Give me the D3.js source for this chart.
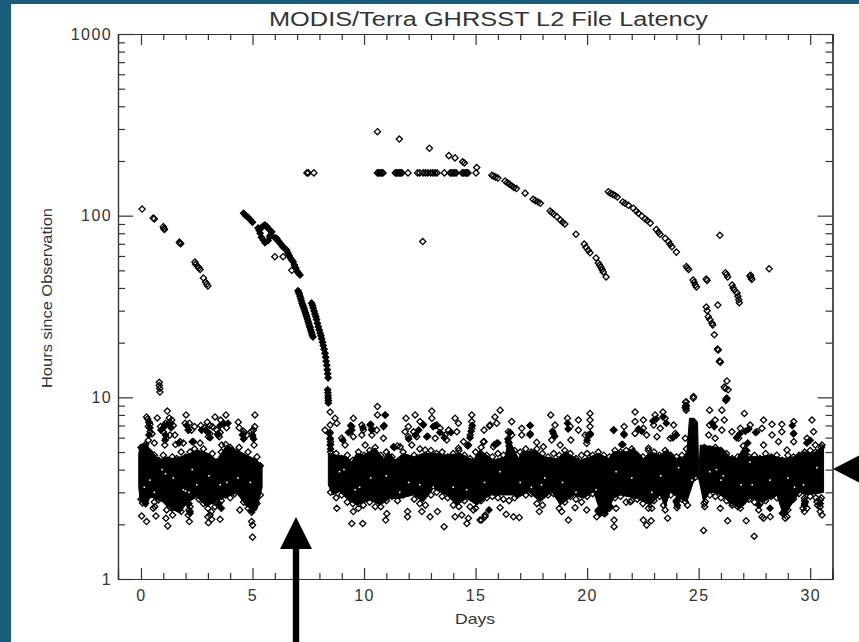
<!DOCTYPE html>
<html>
<head>
<meta charset="utf-8">
<script src="https://cdn.jsdelivr.net/npm/d3@7"></script>
<style>
  html, body { margin: 0; padding: 0; background: #1a5d7b; overflow: hidden; }
  text { font-family: "Liberation Sans", Arial, sans-serif; fill: #2a2a2a; }
</style>
</head>
<body>
<div id="chart"></div>
<script>
// all values: [day, hours since observation]
const xMajor = [0, 5, 10, 15, 20, 25, 30];
const xMinor = [1, 2, 3, 4, 6, 7, 8, 9, 11, 12, 13, 14, 16, 17, 18, 19, 21, 22, 23, 24, 26, 27, 28, 29, 31];
const yMajor = [1, 10, 100, 1000];
const yMinor = [2, 3, 4, 5, 6, 7, 8, 9, 20, 30, 40, 50, 60, 70, 80, 90, 200, 300, 400, 500, 600, 700, 800, 900];

// solid core of the cloud, upper and lower edge, one pair per stretch of days
const bandTopA = [[-0.1, 4.9], [-0.04, 5.46], [0.25, 5.6], [0.4, 5.13], [0.85, 4.52], [1.1, 4.7], [1.45, 4.6], [1.75, 4.7], [2.05, 4.81], [2.5, 5.13], [2.95, 4.95], [3.4, 4.52], [3.84, 5.46], [4.3, 5.13], [4.74, 4.81], [5.19, 4.52], [5.43, 4.2]];
const bandBottomA = [[-0.1, 3.2], [-0.04, 2.72], [0.25, 2.5], [0.4, 2.83], [0.85, 2.72], [1.45, 2.4], [1.75, 2.31], [2.05, 2.62], [2.5, 2.83], [2.95, 2.5], [3.4, 2.72], [3.84, 2.83], [4.3, 2.97], [4.74, 2.5], [5.19, 2.4], [5.43, 3.2]];
const bandTopB = [[8.4, 4.92], [8.77, 4.81], [9.22, 4.71], [9.45, 4.42], [9.67, 4.92], [9.97, 4.81], [10.5, 5.25], [10.87, 4.61], [11.09, 5.02], [11.39, 4.52], [11.77, 4.92], [12.21, 4.71], [12.66, 4.92], [13.18, 4.92], [13.7, 4.81], [14.3, 4.92], [14.9, 4.52], [15.2, 5.13], [15.8, 4.52], [16.32, 4.71], [16.47, 5.82], [16.7, 5.25], [16.92, 4.61], [17.07, 5.02], [17.37, 5.02], [17.67, 5.13], [18.05, 4.71], [18.65, 4.61], [19.02, 5.02], [19.39, 4.71], [19.69, 4.52], [20.15, 4.71], [20.5, 4.92], [20.96, 4.61], [21.18, 5.02], [21.78, 5.02], [22.08, 5.25], [22.53, 4.61], [22.83, 5.02], [23.27, 4.81], [23.57, 5.13], [24.02, 4.61], [24.32, 4.71], [24.47, 5.02], [24.59, 7.67], [24.8, 7.67], [24.95, 7.3], [25.0, 4.0]];
const bandBottomB = [[8.4, 3.29], [8.6, 2.9], [8.9, 3.02], [9.22, 2.78], [9.67, 2.55], [10.27, 2.72], [10.72, 2.55], [11.17, 2.78], [11.62, 2.78], [12.21, 2.9], [12.66, 2.66], [13.11, 3.15], [13.7, 2.9], [14.16, 2.55], [14.6, 2.78], [15.05, 2.55], [15.65, 2.9], [16.1, 2.9], [16.7, 2.9], [16.85, 2.78], [17.37, 3.02], [17.9, 2.66], [18.42, 3.02], [18.8, 2.55], [19.39, 2.9], [19.84, 2.78], [20.29, 3.02], [20.59, 2.35], [20.88, 2.29], [21.18, 2.78], [21.48, 2.9], [22.23, 2.78], [22.83, 2.55], [23.27, 2.9], [23.5, 2.5], [23.73, 3.02], [24.1, 2.78], [24.47, 2.66], [24.77, 3.43], [25.0, 3.6]];
const bandTopC = [[25.0, 3.5], [25.07, 5.46], [25.67, 5.34], [26.04, 5.25], [26.41, 4.71], [26.71, 4.61], [27.09, 5.46], [27.23, 4.71], [27.76, 4.71], [28.2, 4.81], [28.8, 4.61], [29.25, 4.71], [29.7, 5.02], [30.15, 4.92], [30.6, 5.46]];
const bandBottomC = [[25.0, 3.6], [25.22, 2.66], [25.51, 3.02], [26.04, 2.9], [26.41, 2.62], [26.86, 2.45], [27.31, 2.78], [27.9, 2.66], [28.5, 2.9], [28.8, 2.25], [29.1, 2.5], [29.55, 3.02], [29.77, 2.9], [30.3, 2.95], [30.6, 3.0]];

// diamonds that roughen the edge of the core
const edgeTopA = [[0, 5.3], [0.2, 5.5], [0.4, 5.0], [0.6, 4.8], [0.8, 4.5], [1, 4.8], [1.2, 4.5], [1.4, 4.7], [1.6, 4.6], [1.8, 5.0], [2, 4.7], [2.2, 5.0], [2.4, 5.2], [2.6, 4.8], [2.8, 5.2], [3, 4.7], [3.2, 4.9], [3.4, 4.4], [3.6, 5.0], [3.8, 5.5], [4, 5.3], [4.2, 5.0], [4.4, 5.3], [4.6, 4.7], [4.8, 5.0], [5, 4.4], [5.2, 4.7], [5.35, 4.2]];
const edgeBottomA = [[0, 2.75], [0.2, 2.6], [0.4, 2.9], [0.6, 2.65], [0.8, 2.8], [1, 2.9], [1.2, 2.6], [1.4, 2.5], [1.6, 2.55], [1.8, 2.35], [2, 2.7], [2.2, 2.85], [2.4, 3.0], [2.6, 2.75], [2.8, 2.6], [3, 2.45], [3.2, 2.7], [3.4, 2.6], [3.6, 2.85], [3.8, 2.9], [4, 2.8], [4.2, 2.95], [4.4, 3.0], [4.6, 2.65], [4.8, 2.45], [5, 2.5], [5.2, 2.6], [5.35, 2.9]];
const edgeTopB = [[8.5, 5.0], [8.75, 4.9], [9, 4.6], [9.25, 4.8], [9.5, 4.5], [9.75, 5.0], [10, 4.8], [10.25, 5.1], [10.5, 5.3], [10.75, 4.8], [11, 5.0], [11.25, 4.7], [11.5, 5.4], [11.75, 5.0], [12, 4.6], [12.25, 4.8], [12.5, 5.2], [12.75, 4.8], [13, 5.1], [13.25, 4.9], [13.5, 5.0], [13.75, 4.7], [14, 4.9], [14.25, 5.1], [14.5, 4.8], [14.75, 4.6], [15, 5.0], [15.25, 5.3], [15.5, 4.8], [15.75, 4.7], [16, 4.9], [16.25, 4.8], [16.5, 5.6], [16.75, 5.1], [17, 5.0], [17.25, 5.2], [17.5, 5.0], [17.75, 5.2], [18, 4.9], [18.25, 4.7], [18.5, 4.9], [18.75, 4.8], [19, 5.1], [19.25, 4.9], [19.5, 4.6], [19.75, 4.8], [20, 4.9], [20.25, 4.8], [20.5, 5.0], [20.75, 4.8], [21, 4.7], [21.25, 5.1], [21.5, 5.0], [21.75, 5.1], [22, 5.2], [22.25, 4.8], [22.5, 4.7], [22.75, 5.1], [23, 5.0], [23.25, 4.8], [23.5, 5.1], [23.75, 4.8], [24, 4.7], [24.25, 4.8], [24.45, 5.2]];
const edgeBottomB = [[8.5, 3.0], [8.75, 2.8], [9, 2.9], [9.25, 2.65], [9.5, 2.6], [9.75, 2.45], [10, 2.75], [10.25, 2.65], [10.5, 2.5], [10.75, 2.5], [11, 2.7], [11.25, 2.85], [11.5, 2.7], [11.75, 2.9], [12, 3.0], [12.25, 2.75], [12.5, 2.6], [12.75, 2.55], [13, 2.9], [13.25, 3.0], [13.5, 2.85], [13.75, 2.8], [14, 2.55], [14.25, 2.5], [14.5, 2.7], [14.75, 2.5], [15, 2.45], [15.25, 2.7], [15.5, 2.8], [15.75, 2.85], [16, 2.8], [16.25, 2.75], [16.5, 2.7], [16.75, 2.8], [17, 3.0], [17.25, 2.9], [17.5, 2.95], [17.75, 2.6], [18, 2.55], [18.25, 2.9], [18.5, 2.95], [18.75, 2.45], [19, 2.65], [19.25, 2.85], [19.5, 2.75], [19.75, 2.65], [20, 2.85], [20.25, 2.95], [20.5, 2.35], [20.75, 2.3], [21, 2.45], [21.25, 2.8], [21.5, 2.85], [21.75, 2.65], [22, 2.7], [22.25, 2.75], [22.5, 2.6], [22.75, 2.45], [23, 2.7], [23.25, 2.85], [23.5, 2.4], [23.75, 2.9], [24, 2.65], [24.25, 2.75], [24.5, 2.55]];
const edgeTopC = [[25.25, 5.3], [25.5, 5.2], [25.75, 5.3], [26, 5.1], [26.25, 4.9], [26.5, 4.6], [26.75, 4.7], [27, 5.4], [27.25, 4.7], [27.5, 4.8], [27.75, 4.6], [28, 4.9], [28.25, 4.7], [28.5, 4.8], [28.75, 4.5], [29, 4.8], [29.25, 4.7], [29.5, 4.8], [29.75, 5.0], [30, 5.1], [30.25, 5.0], [30.5, 5.3]];
const edgeBottomC = [[25.25, 2.6], [25.5, 2.9], [25.75, 2.85], [26, 2.8], [26.25, 2.7], [26.5, 2.55], [26.75, 2.5], [27, 2.65], [27.25, 2.75], [27.5, 2.65], [27.75, 2.6], [28, 2.7], [28.25, 2.85], [28.5, 2.8], [28.75, 2.3], [29, 2.4], [29.25, 2.75], [29.5, 2.95], [29.75, 2.7], [30, 2.85], [30.25, 2.8], [30.5, 2.8]];

// open diamonds showing through the core as white flecks
const bandSpecks = [[0.4, 3.5], [0.95, 4.0], [1.45, 3.6], [1.9, 3.1], [2.0, 3.05], [2.15, 3.0], [3.05, 3.7], [3.55, 3.3], [3.85, 3.4], [4.35, 3.6], [0.15, 3.2], [1.1, 3.8], [2.3, 4.0], [2.5, 3.3], [4.9, 3.4], [0.6, 3.0],
  [8.9, 3.9], [9.6, 3.1], [9.8, 3.2], [11, 3.7], [11.6, 3.0], [12.5, 3.3], [13.1, 3.2], [13.3, 3.0], [14.0, 3.2], [14.6, 3.1], [9.1, 4.0], [10.3, 3.6], [12, 3.4], [15.4, 3.4], [16.1, 3.9], [17, 3.4], [17.5, 3.2], [17.95, 3.3], [18.1, 3.6], [18.9, 3.4], [19.5, 3.0], [20.4, 3.1], [21.3, 3.9], [22, 3.6], [22.9, 3.0], [23.3, 3.7], [24.1, 4.1], [24.7, 3.5], [24.85, 3.3], [24.87, 3.6], [25.5, 3.9], [25.8, 4.0], [26, 3.5], [26.1, 3.7], [26.9, 3.3], [27.3, 4.4], [27.4, 3.3], [28.2, 3.5], [29.0, 3.6], [29.3, 3.2], [29.7, 3.3], [30.3, 4.1]];

// loose diamonds above and below the core
const scatterUpperA = [[0.25, 7.8], [0.37, 7.3], [0.33, 6.9], [0.41, 6.46], [0.33, 5.8], [0.73, 7.7], [1.18, 8.4], [1.27, 7.7], [1.38, 7.5], [1.07, 7.0], [0.88, 6.9], [1.45, 7.0], [1.0, 6.46], [1.12, 5.95], [1.07, 5.46], [1.52, 6.2], [1.75, 5.7], [1.9, 5.6], [2.02, 8.0], [1.98, 7.2], [2.17, 7.2], [2.13, 6.6], [2.27, 6.6], [2.35, 5.7], [2.65, 5.6], [2.68, 7.0], [2.97, 7.3], [3.09, 7.0], [2.87, 6.8], [3.09, 6.3], [3.02, 6.07], [3.32, 7.8], [3.57, 7.5], [3.81, 8.0], [3.51, 6.07], [3.62, 5.46], [3.84, 6.8], [4.36, 7.3], [4.4, 6.8], [4.59, 6.3], [5.11, 8.0], [5.04, 6.6], [5.0, 6.2], [5.07, 5.46], [0.5, 6.3], [0.6, 5.6], [1.3, 6.2], [1.55, 5.5], [3.4, 6.6], [3.2, 6.9], [2.4, 6.9], [4.6, 6.5], [4.75, 6.2], [5.1, 6.9], [4.95, 6.5], [0.3, 7.6], [0.4, 7.1], [1.1, 7.2], [1.35, 7.2], [3.55, 6.4], [3.45, 6.3], [0.82, 12.1], [0.82, 11.6], [0.84, 11.2], [0.85, 10.7]];
const scatterLowerA = [[0.07, 2.62], [0.03, 2.22], [0.25, 2.07], [0.67, 2.22], [0.55, 2.45], [0.78, 2.72], [1.2, 1.96], [1.12, 2.16], [1.42, 2.25], [1.38, 2.45], [2.12, 2.25], [2.17, 2.07], [2.2, 2.5], [3.1, 2.25], [3.17, 2.13], [3.02, 2.04], [3.55, 2.13], [3.32, 2.5], [4.43, 2.4], [4.8, 2.72], [4.96, 2.07], [5.0, 1.98], [5.0, 1.7], [4.96, 2.33], [2.15, 2.4], [2.1, 2.6], [3.15, 2.35], [3.6, 2.7], [1.15, 2.4], [5.02, 2.6], [5.0, 2.4], [0.62, 2.5], [1.45, 2.75], [2.2, 2.3], [3.0, 2.2]];
const scatterUpperB = [[8.48, 8.3], [8.7, 7.67], [8.48, 7.04], [8.25, 6.6], [8.78, 7.2], [8.48, 5.95], [8.48, 5.46], [8.48, 6.4], [8.5, 5.7], [9.52, 7.67], [9.45, 6.9], [9.37, 6.46], [9.0, 5.95], [9.15, 5.46], [9.52, 6.07], [9.9, 7.04], [9.97, 6.6], [9.9, 6.2], [10.05, 5.46], [10.27, 7.04], [10.35, 6.6], [10.6, 8.9], [10.6, 8.0], [10.95, 8.0], [10.87, 6.9], [10.57, 6.6], [10.35, 6.2], [10.87, 5.95], [11.32, 5.34], [11.62, 5.34], [11.88, 7.67], [11.99, 6.9], [11.84, 6.46], [11.99, 6.07], [12.29, 8.0], [12.51, 7.35], [12.66, 7.04], [12.22, 6.46], [12.36, 6.07], [12.14, 5.46], [12.74, 5.13], [13.04, 8.4], [13.04, 7.67], [13.26, 7.04], [12.81, 6.07], [13.19, 5.95], [13.41, 6.75], [13.64, 6.2], [14.08, 7.67], [14.23, 7.2], [13.79, 6.6], [14.16, 6.46], [13.71, 5.82], [14.83, 8.0], [14.83, 7.35], [14.83, 6.75], [14.76, 6.2], [14.68, 5.46], [14.46, 5.7], [15.38, 6.6], [15.35, 5.7], [15.65, 7.04], [14.23, 5.25],
  [16.1, 8.5], [15.87, 7.8], [15.95, 7.2], [15.62, 6.95], [16.62, 7.35], [16.47, 6.46], [16.62, 6.2], [17.07, 6.75], [17.07, 6.2], [17.44, 7.0], [17.44, 6.2], [17.74, 5.65], [18.04, 5.34], [18.37, 8.0], [18.56, 7.04], [18.49, 6.33], [18.41, 5.82], [18.79, 5.46], [19.12, 7.67], [19.24, 6.9], [19.61, 7.5], [19.61, 6.6], [19.27, 5.82], [20.13, 8.15], [20.13, 7.5], [20.13, 6.9], [20.13, 6.2], [19.91, 6.2], [19.98, 5.58], [21.18, 6.6], [21.66, 6.9], [21.66, 6.2], [21.55, 5.5], [22.15, 8.3], [22.15, 7.35], [22.52, 7.5], [22.52, 6.75], [22.15, 6.33], [22.67, 6.2], [22.75, 5.25], [15.95, 5.58], [15.8, 5.34], [15.38, 5.7], [16.47, 5.7],
  [24.44, 9.45], [24.44, 8.7], [24.77, 10.1], [23.05, 8.0], [23.4, 8.3], [23.5, 7.67], [22.98, 7.04], [23.28, 6.75], [23.13, 6.07], [23.88, 7.04], [23.95, 6.33], [23.73, 5.95], [24.4, 5.95]];
const scatterLowerB = [[8.78, 2.45], [9.45, 2.02], [9.94, 2.02], [9.52, 2.35], [9.97, 2.55], [10.97, 2.11], [11.02, 2.29], [11.95, 2.35], [11.95, 2.2], [12.59, 2.35], [12.96, 2.2], [13.29, 2.35], [13.59, 1.94], [14.08, 2.2], [14.38, 2.25], [14.68, 2.16], [14.61, 2.02], [15.2, 2.11], [15.43, 2.25], [14.9, 2.4], [16.1, 2.47], [16.37, 2.27], [16.7, 2.2], [16.96, 2.18], [17.86, 2.35], [18.86, 2.35], [19.16, 2.11], [19.46, 2.47], [19.98, 2.4], [20.43, 2.2], [20.8, 2.29], [21.21, 2.11], [21.21, 1.94], [21.3, 2.45], [21.93, 2.66], [22.52, 2.11], [22.67, 1.98], [15.42, 2.2], [15.27, 2.11], [22.87, 2.09], [23.61, 2.16], [24.03, 2.47], [23.43, 2.55], [22.9, 2.45], [24.4, 2.66]];
const scatterUpperC = [[26.24, 9.8], [26.22, 9.6], [26.26, 9.9], [25.49, 8.5], [25.49, 7.04], [25.74, 7.5], [26.04, 8.5], [26.15, 7.5], [26.04, 6.6], [25.45, 6.2], [25.74, 5.95], [26.49, 6.46], [27.05, 8.15], [26.87, 6.75], [27.31, 7.04], [26.79, 5.95], [27.61, 6.46], [27.91, 7.5], [27.84, 6.75], [27.91, 5.46], [28.29, 7.1], [28.29, 6.2], [28.73, 7.1], [28.73, 6.46], [28.58, 5.7], [29.26, 7.35], [29.26, 6.33], [29.26, 5.7], [30.08, 7.5], [29.86, 5.95], [30.15, 6.46], [30.53, 5.46], [30.23, 5.46], [28.96, 5.13]];
const scatterLowerC = [[25.22, 1.85], [27.49, 1.72], [26.3, 2.09], [27.13, 2.09], [25.97, 2.45], [25.27, 2.5], [25.3, 2.66], [27.69, 2.4], [27.84, 2.2], [27.91, 2.16], [28.21, 2.2], [28.88, 2.4], [28.96, 2.2], [28.88, 2.16], [29.74, 2.78], [29.74, 2.55], [29.74, 2.35], [30.45, 2.72], [30.45, 2.5], [30.45, 2.35], [30.53, 2.25], [30.3, 2.66], [26.87, 2.45], [26.49, 2.62], [29.86, 2.45], [30.33, 2.55], [29.68, 2.45], [29.78, 2.66]];

// places where the diamonds pile up into solid blobs
const clusterBlobs = [[0.35, 7.3], [0.4, 6.8], [0.36, 6.2], [0.9, 6.6], [1.05, 6.9], [1.1, 6.2], [1.25, 7.2], [1.35, 6.8], [1.08, 5.8], [1.7, 5.6], [2.05, 7.0], [2.12, 6.6], [2.3, 5.7], [2.72, 6.6], [2.9, 6.6], [3.0, 6.4], [3.1, 6.0], [3.45, 6.2], [3.55, 7.0], [3.7, 7.2], [3.9, 7.2], [4.55, 6.2], [4.6, 5.9], [5.0, 6.1], [5.05, 5.9], [2.15, 2.6], [2.2, 2.35], [3.5, 2.6], [3.6, 2.45], [4.95, 2.4], [5.0, 2.5], [1.6, 2.7], [1.7, 2.55],
  [8.45, 6.3], [8.48, 5.9], [8.5, 5.5], [8.5, 5.2], [9.3, 6.4], [9.45, 6.6], [9.4, 7.0], [9.05, 5.8], [9.95, 6.8], [10.3, 7.1], [10.35, 6.7], [10.95, 8.0], [10.9, 7.0], [11.35, 5.3], [12.0, 5.9], [12.3, 6.2], [12.45, 6.6], [12.65, 7.1], [12.85, 6.1], [13.1, 6.9], [13.2, 7.0], [13.4, 6.4], [13.6, 6.0], [13.9, 6.4], [14.85, 7.0], [14.8, 6.5], [14.75, 6.0], [14.65, 5.4], [16.45, 5.9], [16.5, 5.4], [15.85, 5.5], [16.0, 5.6], [16.55, 6.4], [17.45, 7.0], [17.45, 6.3], [18.45, 6.5], [18.55, 6.1], [19.12, 7.2], [19.15, 6.7], [20.0, 5.8], [20.05, 6.2], [20.15, 6.3], [21.2, 6.6], [21.65, 6.3], [21.6, 5.5], [22.3, 6.7], [22.45, 6.5], [20.5, 2.4], [20.6, 2.3], [20.8, 2.35], [21.05, 2.5], [15.6, 2.4], [24.7, 6.2], [24.8, 6.8], [24.45, 9.0],
  [22.95, 7.4], [23.1, 7.6], [23.4, 7.8], [23.55, 7.2], [23.85, 6.0], [24.0, 6.2], [25.6, 7.2], [25.7, 6.9], [26.7, 6.0], [26.85, 6.3], [27.1, 6.5], [27.25, 6.7], [27.2, 5.6], [27.15, 5.1], [27.55, 6.4], [29.2, 7.0], [29.25, 6.3], [29.85, 5.6], [30.0, 5.8], [26.25, 9.8], [24.0, 2.7], [24.05, 2.55], [29.75, 2.6], [28.8, 2.3], [30.45, 2.6], [27.7, 2.55], [28.2, 2.45]];

// the long latency arcs
const arcFirst = [[0.05, 108.7], [0.55, 97], [0.6, 96], [1.0, 87], [1.03, 85], [1.05, 84], [1.72, 71.5], [1.75, 70.7], [1.78, 70], [2.42, 55.5], [2.45, 54], [2.55, 52.5], [2.6, 51.5], [2.65, 50.5], [2.8, 45.4], [2.9, 43], [2.95, 42], [3.0, 41]];
const arcSecond = [[4.6, 103], [4.7, 100], [4.8, 98], [4.9, 95], [5.0, 92], [5.25, 85.5], [5.3, 83], [5.34, 80], [5.4, 76], [5.48, 73.4], [5.56, 71], [5.4, 86], [5.5, 88], [5.56, 88.8], [5.65, 87], [5.75, 84], [5.86, 81.5], [5.8, 78], [5.78, 76.5], [5.7, 73], [6.0, 75.5], [6.08, 75], [6.14, 73], [6.2, 71.5], [6.26, 70], [6.32, 68.5], [6.38, 67], [6.45, 66], [6.53, 64.7], [6.58, 62.5], [6.64, 60.5], [6.7, 58.5], [6.76, 57], [6.82, 55.8], [6.88, 53.5], [6.94, 51.5], [7.0, 49.5], [7.06, 48.2], [7.13, 47.1]];
const arcSecondStray = [[6.0, 59.4], [6.37, 59.4], [6.76, 50]];
const arcThird = [[7.04, 38.6], [7.07, 37.8], [7.1, 37], [7.13, 36], [7.16, 35], [7.19, 34], [7.22, 33], [7.25, 32.2], [7.28, 31.5], [7.31, 30.8], [7.34, 30], [7.37, 29.2], [7.4, 28.5], [7.43, 27.8], [7.46, 27], [7.49, 26.2], [7.52, 25.5], [7.55, 24.8], [7.58, 24.2], [7.61, 23.5], [7.64, 22.8], [7.67, 22.1], [7.71, 21.5]];
const arcFourth = [[7.65, 33], [7.69, 32], [7.72, 31], [7.76, 29.9], [7.8, 28.8], [7.84, 27.8], [7.87, 26.8], [7.91, 25.6], [7.95, 24.5], [7.99, 23.5], [8.03, 22.6], [8.07, 21.8], [8.1, 21], [8.14, 20.1], [8.17, 19.3], [8.21, 18.4], [8.25, 17.5], [8.28, 16.6], [8.3, 15.8], [8.33, 15], [8.35, 14.2], [8.37, 13.5], [8.39, 12.8], [8.37, 11], [8.38, 10.6], [8.39, 10.2], [8.39, 9.9], [8.4, 9.6], [8.4, 9.3]];
const rowAt172 = [[7.44, 172], [7.5, 172], [7.75, 172], [10.6, 172], [10.66, 172], [10.72, 172], [10.78, 172], [10.85, 172], [11.4, 172], [11.46, 172], [11.52, 172], [11.58, 172], [11.64, 172], [11.7, 172], [11.97, 172], [12.4, 172], [12.5, 172], [12.65, 172], [12.75, 172], [12.85, 172], [12.98, 172], [13.08, 172], [13.18, 172], [13.27, 172], [13.6, 172], [13.86, 172], [13.93, 172], [14.0, 172], [14.07, 172], [14.13, 172], [14.4, 172], [14.47, 172], [14.54, 172], [14.6, 172], [14.66, 172], [15.02, 172]];
const arcUpper = [[10.6, 290], [11.58, 264], [12.93, 235], [13.8, 214], [14.08, 208], [14.42, 198], [14.5, 195], [15.05, 184], [12.63, 72]];
const arcFalling = [[15.73, 167], [15.8, 165], [15.9, 163], [16.0, 161], [16.32, 155], [16.42, 152], [16.52, 149], [16.62, 146], [16.72, 143], [16.83, 141], [17.22, 133], [17.58, 123], [17.68, 121], [17.8, 119], [17.9, 117], [18.34, 106], [18.42, 104], [18.5, 102], [18.65, 98.6], [18.8, 94.6], [18.9, 92], [19.0, 90], [19.5, 79], [19.87, 69.8], [19.95, 67], [20.05, 64.5], [20.13, 62.5], [20.4, 58.5], [20.5, 54.9], [20.56, 53.5], [20.62, 52], [20.67, 50.5], [20.72, 49], [20.85, 46]];
const arcRight = [[20.95, 135.5], [21.05, 133], [21.15, 131], [21.25, 129], [21.35, 126.6], [21.6, 119], [21.7, 117], [21.85, 114], [22.07, 110], [22.2, 106], [22.3, 103], [22.45, 99.5], [22.6, 96], [22.7, 94], [22.83, 91], [23.1, 84], [23.2, 81], [23.27, 79], [23.5, 75], [23.65, 72], [23.72, 69.5], [23.8, 67.4], [24.0, 63], [24.5, 51.5], [24.45, 52.5], [24.55, 50.5], [24.75, 44.2], [24.8, 43], [24.85, 41.5], [24.9, 40.5]];
const arcEnd = [[25.34, 44.8], [25.38, 44], [25.95, 78], [26.2, 48.5], [26.25, 47.5], [26.3, 46], [26.5, 41.5], [26.55, 40], [26.6, 39], [26.72, 37.5], [26.76, 36], [26.8, 34.5], [26.82, 33.2], [27.3, 46.5], [27.33, 47], [27.35, 45.5], [27.38, 44.6], [28.16, 51], [25.86, 32.2], [25.34, 31.4], [25.38, 30], [25.43, 27.8], [25.5, 26.8], [25.6, 25.6], [25.63, 25], [25.7, 22.1], [25.84, 18.4], [25.86, 18.4], [25.88, 18.2], [25.93, 15.8], [25.95, 15.8], [25.97, 15.6], [26.27, 12.3], [26.15, 11.4], [26.2, 11.2], [26.32, 11], [26.24, 9.8], [24.76, 9.9], [24.42, 9.4], [24.42, 9.0], [24.44, 8.5], [24.4, 8.8]];

const openGroups = [scatterUpperA, scatterLowerA, scatterUpperB, scatterLowerB, scatterUpperC, scatterLowerC,
  edgeTopA, edgeBottomA, edgeTopB, edgeBottomB, edgeTopC, edgeBottomC,
  arcFirst, arcSecondStray, rowAt172, arcUpper, arcFalling, arcRight, arcEnd];
const solidGroups = [clusterBlobs, arcSecond, arcThird, arcFourth];

const width = 859, height = 642;
const plot = { left: 118, right: 832.5, top: 34, bottom: 579 };

const svg = d3.select('#chart').append('svg')
  .attr('width', width)
  .attr('height', height)
  .style('display', 'block');

// white sheet inside the teal frame
svg.append('rect').attr('x', 11).attr('y', 4).attr('width', width - 11).attr('height', height - 4).attr('fill', '#fff');

const x = d3.scaleLinear().domain([-1.03, 31]).range([plot.left, plot.right]);
const y = d3.scaleLog().domain([1, 1000]).range([plot.bottom, plot.top]);

const toLine = d3.line().x(d => x(d[0])).y(d => y(d[1]));

// core of the cloud
[[bandTopA, bandBottomA], [bandTopB, bandBottomB], [bandTopC, bandBottomC]].forEach(([top, bottom]) => {
  svg.append('path')
    .attr('d', toLine(top.concat(bottom.slice().reverse())) + 'Z')
    .attr('fill', '#000')
    .attr('stroke', '#000')
    .attr('stroke-width', 1);
});

const diamond = 'M0,-3.1L3.1,0L0,3.1L-3.1,0Z';

function drawDiamonds(points, fill) {
  svg.append('g').selectAll('path')
    .data(points)
    .enter()
    .append('path')
    .attr('transform', d => `translate(${x(d[0])},${y(d[1])})`)
    .attr('d', diamond)
    .attr('fill', fill)
    .attr('stroke', '#000')
    .attr('stroke-width', 1.3);
}

drawDiamonds(openGroups.flat(), 'none');
drawDiamonds(solidGroups.flat(), '#000');

svg.append('g').selectAll('rect')
  .data(bandSpecks)
  .enter()
  .append('rect')
  .attr('x', d => x(d[0]) - 0.8)
  .attr('y', d => y(d[1]) - 0.8)
  .attr('width', 1.6)
  .attr('height', 1.6)
  .attr('fill', '#fff');

// axes, all four sides; ticks point inward
function drawAxis(axis, transform, showLabels) {
  const g = svg.append('g').attr('transform', transform).call(axis);
  g.selectAll('path, line').attr('stroke', '#333').attr('stroke-width', 1.2);
  if (!showLabels) g.selectAll('text').remove();
  return g;
}

function styleLabels(g) {
  g.selectAll('text')
    .attr('font-size', 16)
    .attr('letter-spacing', 1.4)
    .style('font-family', '"Liberation Sans", Arial, sans-serif')
    .style('fill', '#333');
}

const noFormat = () => '';
drawAxis(d3.axisBottom(x).tickValues(xMinor).tickSize(-6).tickFormat(noFormat), `translate(0,${plot.bottom})`, false);
drawAxis(d3.axisTop(x).tickValues(xMinor).tickSize(-6).tickFormat(noFormat), `translate(0,${plot.top})`, false);
drawAxis(d3.axisLeft(y).tickValues(yMinor).tickSize(-7).tickFormat(noFormat), `translate(${plot.left},0)`, false);
drawAxis(d3.axisRight(y).tickValues(yMinor).tickSize(-7).tickFormat(noFormat), `translate(${plot.right},0)`, false);

const bottomAxis = drawAxis(d3.axisBottom(x).tickValues(xMajor).tickSize(-11).tickPadding(11).tickFormat(d3.format('d')), `translate(0,${plot.bottom})`, true);
drawAxis(d3.axisTop(x).tickValues(xMajor).tickSize(-11).tickFormat(noFormat), `translate(0,${plot.top})`, false);
const leftAxis = drawAxis(d3.axisLeft(y).tickValues(yMajor).tickSize(-15).tickPadding(6).tickFormat(d3.format('d')), `translate(${plot.left},0)`, true);
drawAxis(d3.axisRight(y).tickValues(yMajor).tickSize(-15).tickFormat(noFormat), `translate(${plot.right},0)`, false);
styleLabels(bottomAxis);
styleLabels(leftAxis);

svg.append('text')
  .attr('x', 269)
  .attr('y', 26)
  .attr('font-size', 20)
  .attr('textLength', 439)
  .attr('lengthAdjust', 'spacingAndGlyphs')
  .style('fill', '#333')
  .text('MODIS/Terra GHRSST L2 File Latency');

svg.append('text')
  .attr('x', 455)
  .attr('y', 624)
  .attr('font-size', 14.5)
  .attr('textLength', 40)
  .attr('lengthAdjust', 'spacingAndGlyphs')
  .style('fill', '#333')
  .text('Days');

svg.append('text')
  .attr('transform', 'translate(52,388) rotate(-90)')
  .attr('font-size', 14.5)
  .attr('textLength', 180)
  .attr('lengthAdjust', 'spacingAndGlyphs')
  .style('fill', '#333')
  .text('Hours since Observation');

// the two black arrows laid over the chart
const arrowUp = d3.path();
arrowUp.moveTo(296, 517);
arrowUp.lineTo(312, 549);
arrowUp.lineTo(299.2, 549);
arrowUp.lineTo(299.2, 642);
arrowUp.lineTo(292.8, 642);
arrowUp.lineTo(292.8, 549);
arrowUp.lineTo(280, 549);
arrowUp.closePath();
svg.append('path').attr('d', arrowUp.toString()).attr('fill', '#000');

const arrowLeft = d3.path();
arrowLeft.moveTo(833, 469);
arrowLeft.lineTo(866, 452);
arrowLeft.lineTo(866, 486);
arrowLeft.closePath();
svg.append('path').attr('d', arrowLeft.toString()).attr('fill', '#000');
</script>
</body>
</html>
